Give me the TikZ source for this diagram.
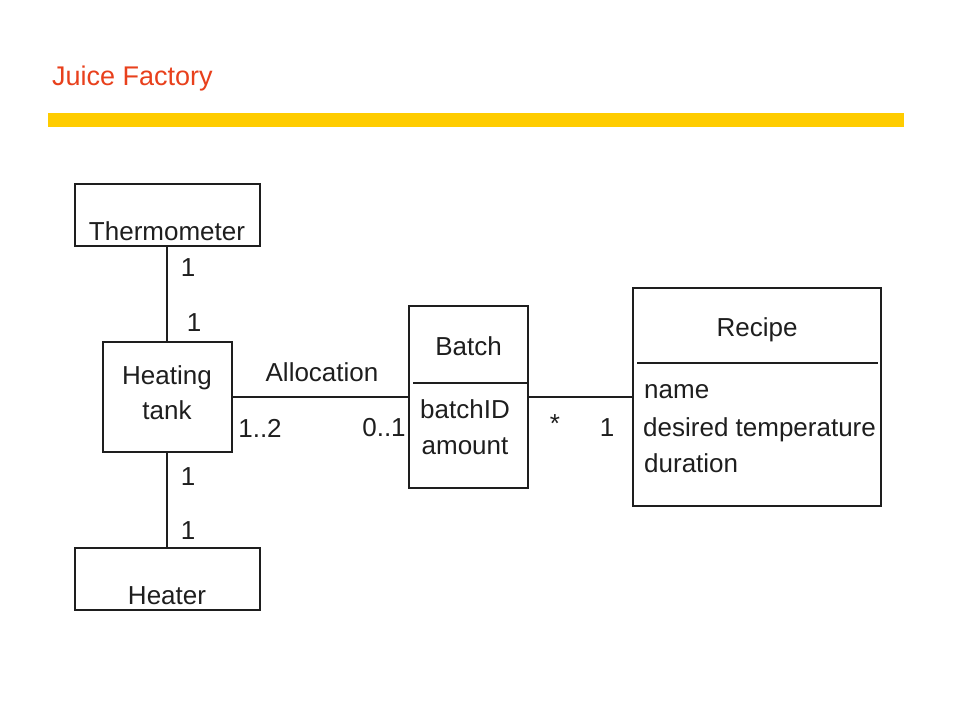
\documentclass[tikz,border=0pt]{standalone}
\usepackage{fontspec}
\setmainfont{Liberation Sans}
\definecolor{titlered}{HTML}{E8401C}
\definecolor{baryellow}{HTML}{FFCC00}
\definecolor{ink}{HTML}{1E1E1E}
\begin{document}
\begin{tikzpicture}[x=1pt,y=-1pt,
  box/.style={draw=ink,line width=2pt,rectangle,inner sep=0pt},
  txt/.style={text=ink,inner sep=0pt,font=\fontsize{26}{35}\selectfont},
  assoc/.style={draw=ink,line width=2pt}]
\useasboundingbox (0,0) rectangle (960,720);
% title and bar
\node[inner sep=0pt,anchor=base west,text=titlered,font=\fontsize{27}{30}\selectfont] (title) at (52,85) {Juice Factory};
\fill[baryellow] (48,113) rectangle (904,127);
% boxes
\node[box,minimum width=185pt,minimum height=62pt] (thermo) at (167,215) {};
\node[txt,anchor=base] (thermot) at (167,240) {Thermometer};
\node[box,minimum width=129pt,minimum height=110pt] (tank) at (167,397) {};
\node[txt,anchor=base] (tankt1) at (167,384) {Heating};
\node[txt,anchor=base] (tankt2) at (167,419) {tank};
\node[box,minimum width=185pt,minimum height=62pt] (heater) at (167,579) {};
\node[txt,anchor=base] (heatert) at (167,604) {Heater};
\node[box,minimum width=119pt,minimum height=182pt] (batch) at (468.5,397) {};
\draw[assoc] (413,383) -- (batch.east |- 0,383);
\node[txt,anchor=base] (batcht) at (468.5,355) {Batch};
\node[txt,anchor=base] (batcha) at (465,418) {batchID};
\node[txt,anchor=base] (batchb) at (465,454) {amount};
\node[box,minimum width=248pt,minimum height=218pt] (recipe) at (757,397) {};
\draw[assoc] (637,363) -- (878,363);
\node[txt,anchor=base] (recipet) at (757,336) {Recipe};
\node[txt,anchor=base west] (ra) at (644,398) {name};
\node[txt,anchor=base west] (rb) at (643,436) {desired temperature};
\node[txt,anchor=base west] (rc) at (644,472) {duration};
% connectors
\draw[assoc] (thermo.south) -- (tank.north);
\draw[assoc] (tank.south) -- (heater.north);
\draw[assoc] (tank.east) -- (batch.west);
\draw[assoc] (batch.east) -- (recipe.west);
% multiplicities
\node[txt] (m1) at (188,268) {1};
\node[txt] (m2) at (194,323) {1};
\node[txt] (m3) at (188,477) {1};
\node[txt] (m4) at (188,531) {1};
\node[txt] (alloc) at (322,372) {Allocation};
\node[txt] (m5) at (260,428) {1..2};
\node[txt] (m6) at (384,428) {0..1};
\node[txt] (m7) at (555,424) {*};
\node[txt] (m8) at (607,428) {1};
\end{tikzpicture}
\end{document}
